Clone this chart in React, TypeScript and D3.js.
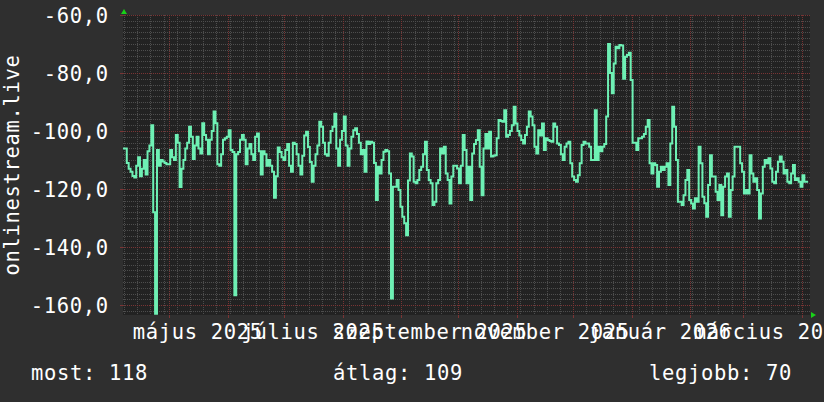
import React from "react";
import * as d3 from "d3";

// ---- data ----
const startTime = Date.UTC(2025, 3, 6, 12); // first sample (daily samples)
const spanDays = 364;
const dayMs = 86400000;

const values: number[] = [
  -106, -106, -111, -113, -114, -115.5, -116, -112, -109, -115.6,
  -113, -110, -115, -107, -105, -98, -128, -163, -106.5, -112,
  -110, -110.5, -111, -111.4, -111.4, -106.5, -109, -110, -101.4, -104,
  -119.3, -113, -110, -106, -104, -98.5, -102, -109.6, -105, -102,
  -106, -107.7, -97.3, -101.4, -103, -108, -103, -100, -93.3, -97.3,
  -111.4, -112, -108, -103, -102.5, -102, -99.7, -106.5, -107.2, -156.6,
  -108, -107.2, -103, -101.4, -103, -111.4, -106, -104.5, -108, -110,
  -102, -100.8, -107, -115, -107, -108, -112, -110, -112, -114,
  -123, -115.6, -105.7, -107.2, -109, -110, -106.5, -104.5, -112, -114,
  -104, -104.5, -108, -112, -115, -108.5, -101.5, -100.2, -105.5, -110.7,
  -117.5, -112, -108, -105, -96.8, -98.5, -104, -108, -108.5, -104,
  -100, -98.5, -94, -106, -112, -103, -100, -95, -105, -112,
  -106, -102, -99.7, -99, -101, -104, -108, -106.5, -114, -103.6,
  -104.5, -103.7, -104, -111, -123.8, -112.3, -114.6, -110, -107.1, -106.5,
  -107, -114.6, -157.7, -119.2, -119.2, -116.9, -120.3, -126.1, -129.5, -131.8,
  -135.9, -117, -107.7, -108.8, -117.5, -118, -116.9, -113.4, -112.3, -108,
  -103.7, -113.4, -116.9, -118, -125.5, -124.4, -118, -116.9, -106, -107.7,
  -105.4, -114.6, -116.9, -125, -115.7, -112, -112, -112.9, -118, -112,
  -101.4, -106.5, -118, -112.3, -123.8, -107.7, -104.5, -103.1, -99.7, -112.3,
  -122.1, -106, -101, -106, -100.2, -108.8, -108.5, -108.3, -102.5, -96.2,
  -96.5, -96.8, -92.8, -102, -101.4, -100, -98, -91.6, -97.4, -100,
  -101.5, -103.1, -104.3, -101.4, -98.5, -93.3, -95, -98, -105.4, -107.7,
  -99.7, -101.5, -97.4, -106.5, -102.5, -103.1, -103.4, -103.7, -97.4, -98.5,
  -104.3, -104.8, -108, -110, -105.4, -104.3, -103.7, -111.1, -115.7, -116.9,
  -117.5, -115.2, -111.1, -104.8, -103.7, -104.3, -104.3, -105.4, -110, -110,
  -92.8, -110, -105.4, -107, -105.4, -104.5, -95, -70, -80, -87,
  -76.7, -70.9, -71.5, -70.3, -70.5, -82, -74.4, -73.8, -73, -82.4,
  -104, -104, -106.5, -102.5, -102.5, -102, -101, -98.5, -96.2, -111.1,
  -114.6, -111.1, -111.7, -119.2, -114, -112.3, -113.4, -112.3, -111.1, -118.6,
  -104.3, -91.6, -98.5, -110, -124.4, -124.4, -125.5, -122.1, -116.9, -113.4,
  -123.8, -125, -126.7, -123.2, -124.4, -105.4, -111.1, -122.6, -124.9, -129.5,
  -118.6, -108.3, -115.7, -115.7, -120.9, -123.8, -118.6, -129, -119.2, -115.7,
  -114.6, -129.5, -120.3, -115.7, -105.4, -105.4, -105.4, -111.1, -114, -121.5,
  -120.3, -121.5, -108.3, -114.6, -117.5, -116.3, -120.3, -130.1, -121.5, -112.3,
  -110, -111.1, -109.4, -112.9, -117.5, -118, -114, -110.6, -108.8, -110.6,
  -114.6, -113.4, -117.5, -118, -114.6, -111.7, -116.9, -116.3, -117.5, -119.2,
  -115.2, -117.5, -117.5,
];

const yMajorTicks = [-60, -80, -100, -120, -140, -160];
const yDomain = [-163.4, -60];
const monthNamesHu = [
  "január", "február", "március", "április", "május", "június",
  "július", "augusztus", "szeptember", "október", "november", "december",
];
const seriesTitle = "onlinestream.live";
const legendLabels = ["most", "átlag", "legjobb"];
const legendValues = [118, 109, 70];

// ---- style ----
const W = 824;
const H = 402;
const left = 123;
const right = 810;
const top = 15;
const bottom = 315;
const FONT = "'DejaVu Sans Mono', monospace";
const FS = 20.5;
const LS = 13 - 0.602 * FS; // hinted 13px advance
const BG = "#2f2f2f";
const CANVAS = "#222222";
const MINOR = "#4d4d4d";
const MAJOR = "#7a3434";
const LINE = "#6ef0b4";
const ARROW = "#19d219";

export default function App() {
  const t0 = new Date(startTime);
  const t1 = new Date(startTime + spanDays * dayMs);
  const x = d3.scaleUtc().domain([t0, t1]).range([left, right]);
  const y = d3.scaleLinear().domain(yDomain).range([bottom, top]);

  const pts = values.map((v, i) => ({ t: new Date(startTime + i * dayMs), v }));
  pts.push({ t: new Date(startTime + values.length * dayMs), v: values[values.length - 1] });
  const line = d3
    .line<{ t: Date; v: number }>()
    .x((d) => x(d.t))
    .y((d) => y(d.v))
    .curve(d3.curveStepAfter);

  const px = (v: number) => Math.round(v) + 0.5;

  const minorY = d3.range(-162, -59, 2).filter((v) => v % 20 !== 0 && v >= yDomain[0]);
  const weeks = d3.utcMonday.range(t0, t1);
  const months = d3.utcMonth.range(t0, t1);
  const labelMonths = d3.utcMonth.every(2)!.range(t0, t1);
  const fmtY = (v: number) => v.toFixed(1).replace(".", ",");

  const legendX = [31, 333, 649];

  return (
    <svg
      width={W}
      height={H}
      style={{ position: "fixed", left: 0, top: 0, display: "block" }}
      fontFamily={FONT}
      letterSpacing={LS}
    >
      <rect x={0} y={0} width={W} height={H} fill={BG} />
      <rect x={left} y={top} width={right - left} height={bottom - top} fill={CANVAS} />

      {/* minor grid */}
      <g stroke={MINOR} strokeWidth={1} strokeDasharray="1 1" shapeRendering="crispEdges">
        {minorY.map((v) => (
          <line key={"my" + v} x1={left} x2={right} y1={px(y(v))} y2={px(y(v))} />
        ))}
        {weeks.map((w) => (
          <line key={"mx" + +w} x1={px(x(w))} x2={px(x(w))} y1={top} y2={bottom} />
        ))}
      </g>
      {/* major grid */}
      <g stroke={MAJOR} strokeWidth={1} strokeDasharray="1 1" shapeRendering="crispEdges">
        {yMajorTicks.map((v) => (
          <line key={"My" + v} x1={left} x2={right} y1={px(y(v))} y2={px(y(v))} />
        ))}
        {months.map((m) => (
          <line key={"Mx" + +m} x1={px(x(m))} x2={px(x(m))} y1={top} y2={bottom} />
        ))}
      </g>
      <g stroke={MAJOR} strokeWidth={1} shapeRendering="crispEdges">
        {months.map((m) => (
          <line key={"Mt" + +m} x1={px(x(m))} x2={px(x(m))} y1={bottom} y2={bottom + 3} />
        ))}
        {yMajorTicks.map((v) => (
          <line key={"Yt" + v} x1={left - 3} x2={left} y1={px(y(v))} y2={px(y(v))} />
        ))}
      </g>

      {/* data line */}
      <path d={line(pts) ?? ""} fill="none" stroke={LINE} strokeWidth={2} strokeLinejoin="miter" />

      {/* arrows */}
      <polygon
        points={`${left - 2},${top - 1} ${left + 4},${top - 1} ${left + 1},${top - 6}`}
        fill={ARROW}
      />
      <polygon
        points={`${right + 1},${bottom - 3} ${right + 1},${bottom + 3} ${right + 6},${bottom}`}
        fill={ARROW}
      />

      {/* y labels */}
      <g fill="#ffffff" fontSize={FS} textAnchor="end">
        {yMajorTicks.map((v) => (
          <text key={"yl" + v} x={108 + LS} y={y(v) + 7.5}>
            {fmtY(v)}
          </text>
        ))}
      </g>

      {/* x labels */}
      <g fill="#ffffff" fontSize={FS} textAnchor="middle">
        {labelMonths.map((m) => (
          <text key={"xl" + +m} x={x(new Date(+m + 15 * dayMs)) + LS / 2} y={338.5}>
            {`${monthNamesHu[m.getUTCMonth()]} ${m.getUTCFullYear()}`}
          </text>
        ))}
      </g>

      {/* vertical title */}
      <text
        fill="#ffffff"
        fontSize={FS}
        textAnchor="middle"
        transform={`translate(18.5,${(top + bottom) / 2}) rotate(-90)`}
      >
        {seriesTitle}
      </text>

      {/* legend */}
      <g fill="#ffffff" fontSize={FS}>
        {legendLabels.map((l, i) => (
          <text key={l} x={legendX[i]} y={380}>
            {`${l}: ${legendValues[i]}`}
          </text>
        ))}
      </g>
    </svg>
  );
}
